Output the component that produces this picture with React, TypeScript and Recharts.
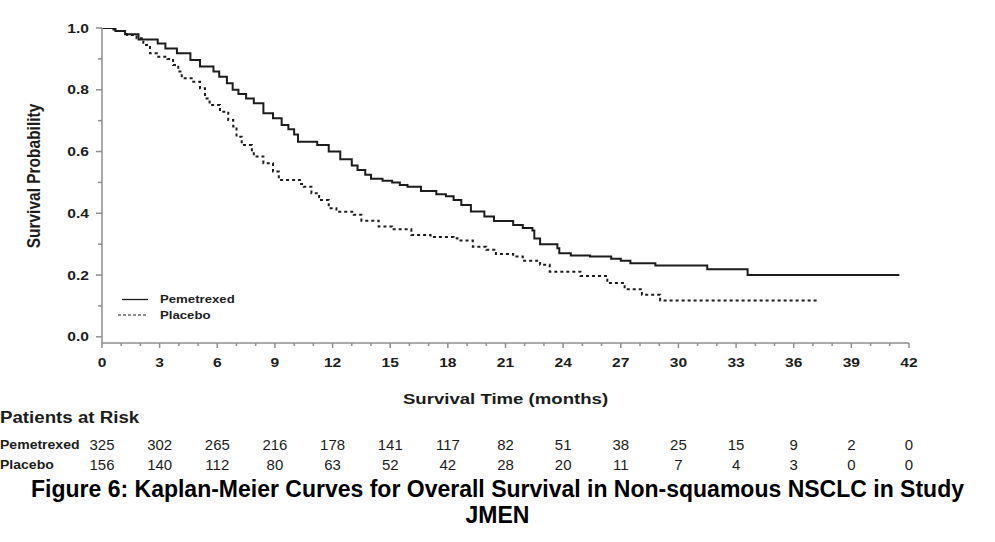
import React from 'react';
import { LineChart, Line, XAxis, YAxis, Legend } from 'recharts';

// Kaplan-Meier step points: [month, survival probability]
const pemetrexedSteps: [number, number][] = [
  [0, 1.0], [0.7, 0.99], [1.2, 0.98], [1.9, 0.963], [2.9, 0.95], [3.3, 0.934],
  [3.9, 0.918], [4.6, 0.896], [5.1, 0.875], [5.8, 0.859], [6.1, 0.842], [6.5, 0.821],
  [6.8, 0.8], [7.1, 0.786], [7.5, 0.772], [7.9, 0.756], [8.4, 0.724], [8.9, 0.708],
  [9.35, 0.686], [9.7, 0.672], [10.0, 0.655], [10.2, 0.632], [11.2, 0.621], [11.8, 0.6],
  [12.4, 0.575], [13.0, 0.555], [13.3, 0.54], [13.7, 0.525], [14.0, 0.512], [14.6, 0.505],
  [15.1, 0.5], [15.5, 0.492], [15.9, 0.486], [16.6, 0.472], [17.4, 0.462], [17.9, 0.455],
  [18.3, 0.443], [18.7, 0.427], [19.2, 0.406], [19.9, 0.39], [20.4, 0.375], [21.4, 0.362],
  [21.9, 0.352], [22.4, 0.344], [22.5, 0.318], [22.8, 0.3], [23.7, 0.287], [23.8, 0.271],
  [24.4, 0.263], [25.4, 0.26], [26.5, 0.253], [27.0, 0.246], [27.5, 0.238], [28.8, 0.231],
  [31.5, 0.219], [33.6, 0.2], [41.5, 0.2],
];

const placeboSteps: [number, number][] = [
  [0, 1.0], [0.5, 0.995], [0.8, 0.99], [1.3, 0.977], [1.8, 0.967], [2.15, 0.945],
  [2.5, 0.918], [2.85, 0.907], [3.4, 0.9], [3.7, 0.88], [3.97, 0.859], [4.15, 0.837],
  [4.75, 0.826], [5.1, 0.805], [5.36, 0.772], [5.6, 0.751], [6.14, 0.729], [6.57, 0.702],
  [6.83, 0.681], [7.0, 0.648], [7.27, 0.621], [7.8, 0.6], [7.9, 0.584], [8.4, 0.562],
  [8.9, 0.535], [9.2, 0.508], [10.3, 0.495], [10.5, 0.486], [10.9, 0.465], [11.3, 0.443],
  [11.8, 0.416], [12.2, 0.405], [13.1, 0.395], [13.5, 0.376], [14.4, 0.357], [15.1, 0.348],
  [16.1, 0.33], [17.1, 0.323], [18.3, 0.319], [18.5, 0.312], [19.3, 0.292], [20.0, 0.282],
  [20.5, 0.268], [21.4, 0.26], [21.9, 0.246], [22.8, 0.233], [23.3, 0.211], [24.9, 0.197],
  [26.3, 0.174], [27.2, 0.154], [28.1, 0.136], [29.05, 0.118], [37.2, 0.118],
];

const riskMonths = [0, 3, 6, 9, 12, 15, 18, 21, 24, 27, 30, 33, 36, 39, 42];
const pemetrexedAtRisk = [325, 302, 265, 216, 178, 141, 117, 82, 51, 38, 25, 15, 9, 2, 0];
const placeboAtRisk = [156, 140, 112, 80, 63, 52, 42, 28, 20, 11, 7, 4, 3, 0, 0];

const xTicks = [
  0, 1, 2, 3, 4, 5, 6, 7, 8, 9, 10, 11, 12, 13, 14, 15, 16, 17, 18, 19, 20, 21,
  22, 23, 24, 25, 26, 27, 28, 29, 30, 31, 32, 33, 34, 35, 36, 37, 38, 39, 40, 41, 42,
];
const yTicks = [0, 0.1, 0.2, 0.3, 0.4, 0.5, 0.6, 0.7, 0.8, 0.9, 1.0];

const seriesNames = ['Pemetrexed', 'Placebo'];
const xAxisTitle = 'Survival Time (months)';
const yAxisTitle = 'Survival Probability';
const riskTitle = 'Patients at Risk';
const figureTitle1 = 'Figure 6: Kaplan-Meier Curves for Overall Survival in Non-squamous NSCLC in Study';
const figureTitle2 = 'JMEN';

const pemData = pemetrexedSteps.map(([t, s]) => ({ t, s }));
const plaData = placeboSteps.map(([t, s]) => ({ t, s }));

const AXIS = '#8e8e8e';
const INK = '#1c1c1c';
const SANS = "'Liberation Sans', Arial, Helvetica, sans-serif";

type STextProps = {
  x: number;
  y: number;
  size: number;
  sx?: number;
  anchor?: 'start' | 'middle' | 'end';
  weight?: string;
  children: React.ReactNode;
};

const SText = ({ x, y, size, sx = 1.2, anchor = 'middle', weight = 'bold', children }: STextProps) => (
  <text
    transform={`translate(${x},${y}) scale(${sx},1)`}
    x={0}
    y={0}
    dy="0.35em"
    textAnchor={anchor}
    fontFamily={SANS}
    fontWeight={weight}
    fontSize={size}
    fill={INK}
  >
    {children}
  </text>
);

const XTick = (props: any) => {
  const { x, y, payload } = props;
  const v = payload.value;
  const major = v % 3 === 0;
  const idx = riskMonths.indexOf(v);
  return (
    <g>
      <line x1={x} y1={y} x2={x} y2={y + (major ? 5 : 3)} stroke={AXIS} strokeWidth={1.5} />
      {major && (
        <SText x={x} y={y + 19.5} size={13}>
          {v}
        </SText>
      )}
      {idx >= 0 && (
        <SText x={x} y={y + 102} size={14} sx={1.07} weight="normal">
          {pemetrexedAtRisk[idx]}
        </SText>
      )}
      {idx >= 0 && (
        <SText x={x} y={y + 122} size={14} sx={1.07} weight="normal">
          {placeboAtRisk[idx]}
        </SText>
      )}
    </g>
  );
};

const YTick = (props: any) => {
  const { x, y, payload } = props;
  const v = payload.value;
  const major = Math.round(v * 10) % 2 === 0;
  return (
    <g>
      <line x1={x} y1={y} x2={x - (major ? 6 : 4)} y2={y} stroke={AXIS} strokeWidth={1.5} />
      {major && (
        <SText x={x - 13} y={y} size={13} anchor="end">
          {v.toFixed(1)}
        </SText>
      )}
    </g>
  );
};

const YLabel = () => (
  <text
    transform="translate(33,176) rotate(-90) scale(1,1.2)"
    textAnchor="middle"
    dy="0.35em"
    fontFamily={SANS}
    fontWeight="bold"
    fontSize={15.5}
    fill={INK}
  >
    {yAxisTitle}
  </text>
);

const XLabel = (props: any) => {
  const vb = props.viewBox || { x: 102, y: 343, width: 807 };
  const cx = vb.x + vb.width / 2;
  return (
    <g>
      <SText x={cx} y={vb.y + 56} size={15.5}>
        {xAxisTitle}
      </SText>
      <SText x={0} y={vb.y + 74.5} size={17} sx={1.1} anchor="start">
        {riskTitle}
      </SText>
      <SText x={0} y={vb.y + 101.7} size={13} sx={1.08} anchor="start">
        {seriesNames[0]}
      </SText>
      <SText x={0} y={vb.y + 121} size={13} sx={1.08} anchor="start">
        {seriesNames[1]}
      </SText>
    </g>
  );
};

const LegendBox = () => (
  <svg width={170} height={32} style={{ display: 'block' }}>
    <line x1={4} y1={7.5} x2={30} y2={7.5} stroke={INK} strokeWidth={1.3} />
    <line x1={0} y1={23} x2={30} y2={23} stroke={INK} strokeWidth={1.1} strokeDasharray="3 2" />
    <SText x={42} y={7.5} size={11} anchor="start">
      {seriesNames[0]}
    </SText>
    <SText x={42} y={23} size={11} anchor="start">
      {seriesNames[1]}
    </SText>
  </svg>
);

export default function App() {
  return (
    <div style={{ position: 'absolute', left: 0, top: 0, width: 995, height: 542, background: '#fff' }}>
      <LineChart width={995} height={480} margin={{ top: 28, right: 86, left: 0, bottom: 0 }}>
        <XAxis
          type="number"
          dataKey="t"
          domain={[0, 42]}
          ticks={xTicks}
          interval={0}
          allowDataOverflow
          height={137}
          tickSize={0}
          tickMargin={0}
          tickLine={false}
          axisLine={{ stroke: AXIS, strokeWidth: 1.5 }}
          tick={<XTick />}
          label={<XLabel />}
        />
        <YAxis
          type="number"
          domain={[-0.02, 1]}
          ticks={yTicks}
          interval={0}
          allowDataOverflow
          width={102}
          tickSize={0}
          tickMargin={0}
          tickLine={false}
          axisLine={{ stroke: AXIS, strokeWidth: 1.5 }}
          tick={<YTick />}
          label={<YLabel />}
        />
        <Legend
          layout="horizontal"
          verticalAlign="middle"
          align="center"
          content={() => <LegendBox />}
          wrapperStyle={{ position: 'absolute', left: 118, top: 292, width: 170 }}
        />
        <Line
          data={pemData}
          dataKey="s"
          name={seriesNames[0]}
          type="stepAfter"
          stroke={INK}
          strokeWidth={2}
          dot={false}
          activeDot={false}
          isAnimationActive={false}
        />
        <Line
          data={plaData}
          dataKey="s"
          name={seriesNames[1]}
          type="stepAfter"
          stroke={INK}
          strokeWidth={2}
          strokeDasharray="3 3"
          dot={false}
          activeDot={false}
          isAnimationActive={false}
        />
      </LineChart>
      <div
        style={{
          position: 'absolute',
          left: 0,
          top: 476,
          width: 995,
          textAlign: 'center',
          fontFamily: SANS,
          fontWeight: 'bold',
          fontSize: 23,
          lineHeight: '26px',
          color: '#000',
          whiteSpace: 'nowrap',
        }}
      >
        <div>{figureTitle1}</div>
        <div>{figureTitle2}</div>
      </div>
    </div>
  );
}
